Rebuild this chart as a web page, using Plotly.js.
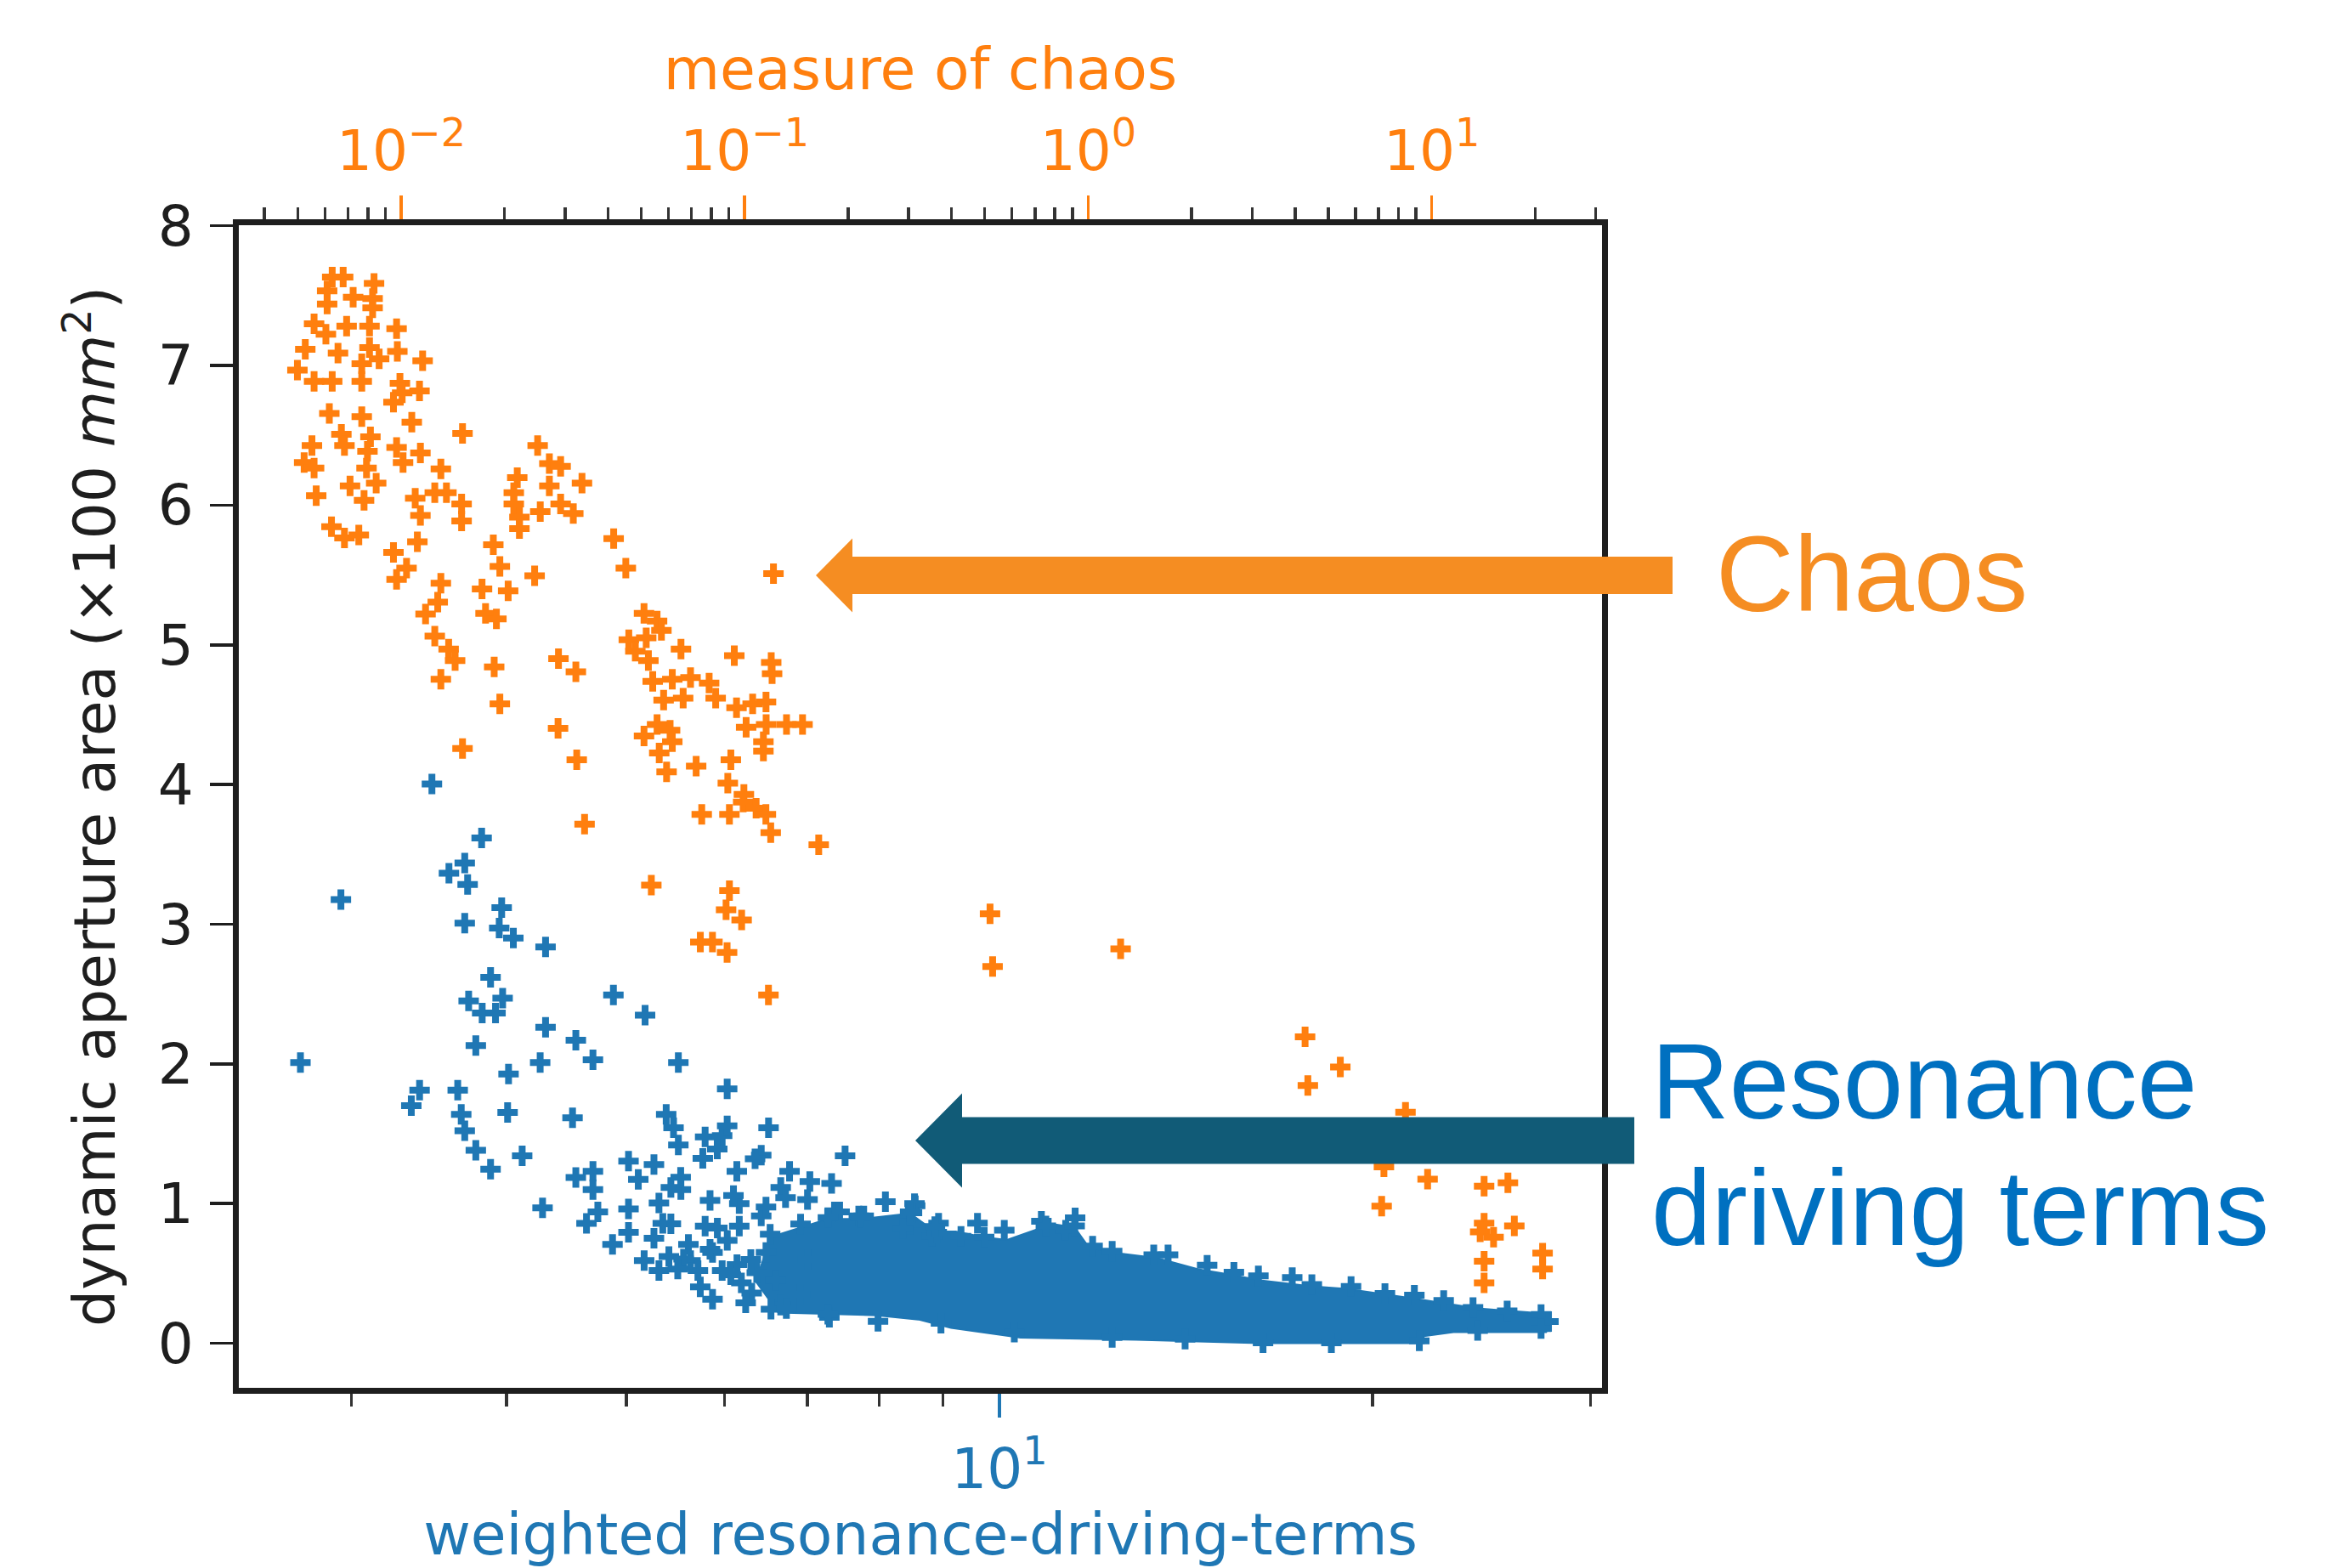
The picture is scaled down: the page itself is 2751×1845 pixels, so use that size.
<!DOCTYPE html>
<html>
<head>
<meta charset="utf-8">
<script src="https://cdn.plot.ly/plotly-3.0.1.min.js"></script>
<style>
html,body{margin:0;padding:0;background:#ffffff;}
#chart{width:2751px;height:1845px;}
</style>
</head>
<body>
<div id="chart"></div>
<script>
// ---------- DATA ----------
// Orange: measure of chaos (top log axis) vs dynamic aperture area
const chaosMeasure = [
  0.0063,0.00678,0.00834,0.00609,0.00609,0.00725,0.00826,0.00826,0.00558,0.00604,
  0.00694,0.00809,0.0097,0.00526,0.00655,0.00809,0.00863,0.00768,0.00975,0.01155,
  0.00499,0.00558,0.0063,0.00768,0.00992,0.01007,0.01131,0.0095,0.00618,0.00768,
  0.01074,0.01509,0.02497,0.02701,0.02913,0.0067,0.00684,0.00814,0.00798,0.0055,
  0.00522,0.00558,0.00793,0.0097,0.01138,0.01013,0.01305,0.02178,0.02128,0.02128,
  0.0221,0.0221,0.02701,0.03361,0.0071,0.00846,0.0078,0.00566,0.01099,0.01253,
  0.01355,0.015,0.015,0.01138,0.02541,0.02913,0.03171,0.00627,0.00684,0.00753,
  0.01115,0.0095,0.01855,0.01938,0.02447,0.04156,0.04509,0.1213,0.01037,0.0097,
  0.01305,0.0172,0.02049,0.01278,0.01178,0.01761,0.01894,0.05094,0.0556,0.05724,
  0.046,0.0517,0.04806,0.06526,0.0933,0.1195,0.1202,0.01253,0.01375,0.01436,
  0.01305,0.02871,0.03226,0.01866,0.05246,0.054,0.06157,0.06957,0.07882,0.08235,
  0.05809,0.06622,0.0947,0.1055,0.1154,0.01938,0.02863,0.0556,0.06067,0.05094,
  0.06157,0.101,0.1155,0.1324,0.1474,0.1134,0.1134,0.05641,0.05926,0.07225,
  0.09116,0.08933,0.0995,0.01509,0.03245,0.0342,0.099,0.108,0.1153,0.1191,
  0.075,0.0903,0.1643,0.0535,0.0903,0.0883,0.098,0.0743,0.0806,0.0889,
  0.1173,0.518,0.527,1.243,4.28,5.42,4.36,8.39,7.26,9.73,
  14.21,16.67,7.15,14.21,13.84,15.14,17.4,14.21,21.03,21.03,14.21
];
const chaosArea = [
  7.633,7.633,7.588,7.534,7.439,7.488,7.48,7.412,7.299,7.223,
  7.282,7.282,7.263,7.115,7.088,7.128,7.048,7.012,7.101,7.034,
  6.966,6.886,6.886,6.886,6.872,6.804,6.818,6.737,6.656,6.634,
  6.594,6.513,6.427,6.297,6.278,6.508,6.427,6.489,6.386,6.427,
  6.305,6.265,6.265,6.413,6.373,6.305,6.259,6.197,6.089,6.008,
  5.914,5.832,6.138,6.157,6.138,6.157,6.035,6.067,6.049,6.089,
  6.089,6.008,5.887,5.927,5.954,6.008,5.94,5.846,5.765,5.787,
  5.738,5.662,5.716,5.562,5.495,5.76,5.549,5.509,5.549,5.468,
  5.441,5.40,5.387,5.306,5.22,5.225,5.185,5.225,5.171,5.104,
  5.036,5.05,4.955,4.969,4.923,4.874,4.793,5.063,4.969,4.888,
  4.753,4.901,4.807,4.842,4.888,4.739,4.753,4.766,4.726,4.618,
  4.604,4.618,4.55,4.577,4.591,4.577,4.402,4.429,4.388,4.348,
  4.307,4.41,4.429,4.429,4.429,4.307,4.24,4.226,4.091,4.131,
  4.177,4.01,3.929,4.258,4.177,3.716,3.874,3.83,3.786,3.655,
  3.786,3.786,3.568,3.279,3.24,3.104,3.031,2.872,2.872,2.798,
  2.494,3.075,2.697,2.823,2.194,1.978,1.846,1.653,1.263,1.174,
  1.124,1.149,0.981,0.86,0.797,0.759,0.84,0.588,0.646,0.532,0.432
];

// Blue: weighted resonance-driving-terms (bottom log axis) vs dynamic aperture area
const rdtValue = [
  3.483,3.82,3.702,3.595,3.722,2.941,3.965,3.702,3.947,4.052,
  4.302,3.884,3.729,3.972,3.824,3.92,4.88,5.176,4.302,4.551,
  3.779,2.728,4.259,4.698,5.506,4.016,3.404,3.352,3.654,3.678,
  3.702,4.009,4.523,6.029,3.779,3.884,4.119,5.383,5.457,5.506,
  5.787,5.973,6.029,5.919,6.511,6.423,7.506,5.762,6.138,4.698,
  4.551,5.019,5.111,5.262,4.698,5.532,6.77,6.66,7.03,7.32,
  4.278,4.741,4.642,5.019,5.311,5.349,5.84,6.166,5.787,6.166,
  6.423,6.72,7.0,7.36,8.09,8.55,7.7,8.47,8.82,9.31,
  4.872,5.019,5.262,5.167,5.311,5.632,5.867,5.973,5.735,5.867,
  6.31,6.66,5.43,5.53,5.92,6.03,5.61,5.41,5.71,6.14,
  6.37,6.19,6.48,8.54,8.5,8.93,9.6,10.09,10.81,11.51,
  11.31,11.89,12.33,13.32,13.68,14.71,15.46,16.18,17.23,17.87,
  19.22,20.47,21.62,22.83,24.11,25.69,27.36,27.74,27.36,24.32,
  21.82,18.53,16.32,14.12,12.33,10.28,8.97,6.91,7.43,7.77,
  8.36,8.9,7.98,7.29,6.54,6.35,6.1,6.48,8.87,5.84,
  5.56,6.07,6.24,6.73,7.27,5.5,5.43,6.53,7.27,7.73,
  8.47,9.72,10.9,11.5,6.3,6.6,7.0,6.9
];
const rdtArea = [
  4.004,3.618,3.438,3.365,3.284,3.177,3.119,3.008,2.973,2.901,
  2.837,2.619,2.451,2.471,2.364,2.364,2.494,2.349,2.262,2.169,
  2.131,2.009,2.009,2.03,2.009,1.928,1.812,1.701,1.812,1.638,
  1.521,1.652,1.614,1.821,1.382,1.246,1.342,1.638,1.542,1.42,
  1.478,1.487,1.556,1.391,1.542,1.347,1.342,1.324,1.231,1.231,
  1.187,1.304,1.173,1.28,1.1,1.1,1.231,1.115,1.158,1.144,
  0.97,0.941,0.859,0.961,1.005,0.859,1.022,0.999,0.839,0.839,
  0.912,1.042,1.028,0.941,1.013,0.984,0.912,0.853,0.766,0.766,
  0.708,0.795,0.752,0.592,0.52,0.592,0.65,0.52,0.403,0.316,
  0.36,0.273,1.115,1.188,0.825,0.737,0.708,0.621,0.52,0.563,
  0.505,0.432,0.65,1.0,0.935,0.86,0.86,0.81,0.873,0.898,
  0.81,0.696,0.659,0.633,0.633,0.558,0.508,0.482,0.47,0.42,
  0.407,0.357,0.344,0.306,0.256,0.231,0.206,0.155,0.105,0.092,
  0.017,0.004,0.004,0.03,0.042,0.08,0.143,0.853,0.941,0.912,
  0.824,0.795,0.157,0.186,0.244,1.32,1.057,0.976,0.836,0.673,
  0.602,0.49,0.29,0.248,0.207,0.531,0.855,0.78,0.90,0.90,
  0.94,0.76,0.84,0.84,0.6,0.45,0.6,0.35
];
// Outline of the saturated (fully overlapping) blue region
const rdtCoreValue = [6.53,7.27,7.73,8.47,8.87,9.22,9.72,10.14,10.76,11.1,11.5,11.8,12.33,13.4,14.47,15.39,16.23,17.77,19.05,21.62,24.32,27.74,27.87,27.62,23.25,22.0,22.0,16.23,12.9,10.4,9.14,8.6,7.96,7.38,6.63,6.35];
const rdtCoreArea  = [0.76,0.89,0.89,0.93,0.80,0.80,0.76,0.74,0.82,0.85,0.83,0.69,0.65,0.61,0.53,0.49,0.45,0.41,0.39,0.32,0.25,0.21,0.14,0.08,0.08,0.05,0.0,0.0,0.025,0.04,0.11,0.17,0.2,0.21,0.22,0.45];

// Ticks
const yTickVals = [0,1,2,3,4,5,6,7,8];
const topTickVals = [0.01,0.1,1,10];
const topTickText = ['10<sup>\u22122</sup>','10<sup>\u22121</sup>','10<sup>0</sup>','10<sup>1</sup>'];
const topMinorVals = [0.004,0.005,0.006,0.007,0.008,0.009,0.02,0.03,0.04,0.05,0.06,0.07,0.08,0.09,0.2,0.3,0.4,0.5,0.6,0.7,0.8,0.9,2,3,4,5,6,7,8,9,20,30];
const bottomTickVals = [10];
const bottomTickText = ['10<sup>1</sup>'];
const bottomMinorVals = [3,4,5,6,7,8,9,20,30];

// Labels
const topTitle = 'measure of chaos';
const bottomTitle = 'weighted resonance-driving-terms';
const yTitle = 'dynamic aperture area (\u00d7100 <i>mm</i><sup>2</sup>)';

// ---------- LAYOUT GEOMETRY ----------
const W = 2751, H = 1845;
const L = 281, R = 1885, T = 265, B = 1633;
const px = x => (x - L) / (R - L);
const py = y => (B - y) / (B - T);

function arrowPath(tipX, tipY, backX, headHalf, shaftHalf, tailX) {
  const pts = [
    [tailX, tipY - shaftHalf], [backX, tipY - shaftHalf], [backX, tipY - headHalf],
    [tipX, tipY], [backX, tipY + headHalf], [backX, tipY + shaftHalf], [tailX, tipY + shaftHalf]
  ];
  return 'M' + pts.map(p => px(p[0]).toFixed(5) + ',' + py(p[1]).toFixed(5)).join(' L') + ' Z';
}

const ORANGE = '#ff7f0e', BLUE = '#1f77b4', DARK = '#1e1e1e';
const markerSize = 20;

const traces = [
  {
    type: 'scatter', mode: 'lines', x: rdtCoreValue, y: rdtCoreArea,
    xaxis: 'x', yaxis: 'y', fill: 'toself', fillcolor: BLUE,
    line: {color: BLUE, width: 2}, hoverinfo: 'skip', showlegend: false
  },
  {
    type: 'scatter', mode: 'markers', x: rdtValue, y: rdtArea,
    xaxis: 'x', yaxis: 'y',
    marker: {symbol: 'cross', size: markerSize, color: BLUE, line: {width: 0}},
    showlegend: false
  },
  {
    type: 'scatter', mode: 'markers', x: chaosMeasure, y: chaosArea,
    xaxis: 'x2', yaxis: 'y',
    marker: {symbol: 'cross', size: markerSize, color: ORANGE, line: {width: 0}},
    showlegend: false
  }
];

const layout = {
  width: W, height: H,
  margin: {l: L, r: W - R, t: T, b: H - B, pad: 0},
  paper_bgcolor: '#ffffff', plot_bgcolor: '#ffffff',
  font: {family: 'DejaVu Sans, sans-serif', size: 66, color: DARK},
  showlegend: false,
  xaxis: {
    type: 'log', range: [0.3861, 1.4863], side: 'bottom', anchor: 'y',
    showline: true, linecolor: DARK, linewidth: 7, mirror: false,
    showgrid: false, zeroline: false,
    ticks: 'outside', ticklen: 28, tickwidth: 3.5, tickcolor: BLUE,
    tickmode: 'array', tickvals: bottomTickVals, ticktext: bottomTickText,
    tickfont: {size: 66, color: BLUE},
    ticklabelstandoff: 4,
    minor: {tickmode: 'array', tickvals: bottomMinorVals, ticks: 'outside', ticklen: 15, tickwidth: 3.5, tickcolor: '#333333', showgrid: false},
    title: {text: bottomTitle, font: {size: 68, color: BLUE}, standoff: 12}
  },
  xaxis2: {
    type: 'log', range: [-2.4725, 1.4958], side: 'top', anchor: 'y', overlaying: 'x',
    showline: true, linecolor: DARK, linewidth: 7,
    showgrid: false, zeroline: false,
    ticks: 'outside', ticklen: 28, tickwidth: 3.5, tickcolor: ORANGE,
    tickmode: 'array', tickvals: topTickVals, ticktext: topTickText,
    tickfont: {size: 66, color: ORANGE},
    ticklabelstandoff: 4,
    minor: {tickmode: 'array', tickvals: topMinorVals, ticks: 'outside', ticklen: 14, tickwidth: 3.5, tickcolor: '#333333', showgrid: false},
    title: {text: topTitle, font: {size: 68, color: ORANGE}, standoff: 4}
  },
  yaxis: {
    range: [-0.319, 8.004], anchor: 'x',
    showline: true, linecolor: DARK, linewidth: 7, mirror: true,
    showgrid: false, zeroline: false,
    ticks: 'outside', ticklen: 27, tickwidth: 3.5, tickcolor: DARK,
    tickmode: 'array', tickvals: yTickVals,
    tickfont: {size: 66, color: DARK},
    ticklabelstandoff: 6,
    title: {text: yTitle, font: {size: 68, color: DARK}, standoff: 30}
  },
  shapes: [
    {type: 'path', xref: 'paper', yref: 'paper', path: arrowPath(960, 677, 1003, 43.5, 22, 1968),
     fillcolor: '#F58D22', line: {width: 0}, layer: 'above'},
    {type: 'path', xref: 'paper', yref: 'paper', path: arrowPath(1077, 1342, 1132, 55.5, 27.5, 1923),
     fillcolor: '#115B77', line: {width: 0}, layer: 'above'}
  ],
  annotations: [
    {xref: 'paper', yref: 'paper', x: px(2017), y: py(675), xanchor: 'left', yanchor: 'middle',
     text: 'Chaos', showarrow: false,
     font: {family: 'Liberation Sans, Arial, sans-serif', size: 127, color: '#F58D22'}},
    {xref: 'paper', yref: 'paper', x: px(1941), y: py(1272), xanchor: 'left', yanchor: 'middle',
     text: 'Resonance', showarrow: false,
     font: {family: 'Liberation Sans, Arial, sans-serif', size: 127, color: '#0070C0'}},
    {xref: 'paper', yref: 'paper', x: px(1941), y: py(1421), xanchor: 'left', yanchor: 'middle',
     text: 'driving terms', showarrow: false,
     font: {family: 'Liberation Sans, Arial, sans-serif', size: 127, color: '#0070C0'}}
  ]
};

Plotly.newPlot('chart', traces, layout, {staticPlot: true, displayModeBar: false});
</script>
</body>
</html>
